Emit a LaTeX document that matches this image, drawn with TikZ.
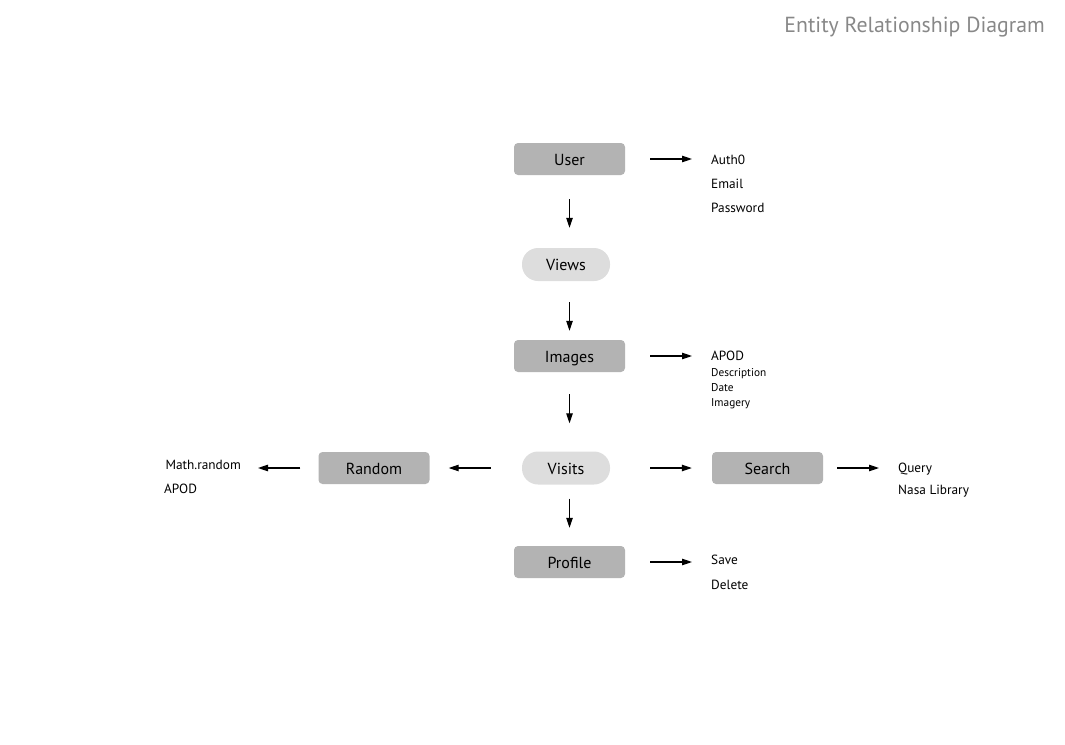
\documentclass[tikz,border=0pt]{standalone}
\usepackage{fontspec}
\setmainfont{PT Sans}
\usetikzlibrary{arrows.meta}
\definecolor{boxgray}{RGB}{179,179,179}
\definecolor{pillgray}{RGB}{221,221,221}
\definecolor{titlegray}{RGB}{136,136,136}

\begin{document}
\begin{tikzpicture}[x=1pt,y=-1pt,
  entity/.style={fill=boxgray,rounded corners=4pt,minimum width=111pt,minimum height=32pt,text height=12pt,text depth=0pt,font=\fontsize{16}{19}\selectfont},
  relation/.style={entity,fill=pillgray,rounded corners=16pt,minimum width=88pt,minimum height=33pt},
  attr/.style={anchor=west,inner sep=0pt,text height=9pt,text depth=3pt,font=\fontsize{13.3}{15}\selectfont},
  small/.style={attr,text height=8pt,text depth=2pt,font=\fontsize{11.3}{13}\selectfont},
  arr/.style={line width=1.1pt,-{Triangle[length=10pt,width=6.5pt]}}]

\useasboundingbox (0,0) rectangle (1065,744);

\node[anchor=east,inner sep=0pt,text=titlegray,font=\fontsize{21.8}{24}\selectfont] (title) at (1045,27) {Entity Relationship Diagram};

\node[entity] (user) at (569.5,159) {User};
\node[relation] (views) at (566,264.5) {Views};
\node[entity] (images) at (569.5,356) {Images};
\node[relation] (visits) at (566,468) {Visits};
\node[entity] (random) at (374,468) {Random};
\node[entity] (search) at (767.5,468) {Search};
\node[entity] (profile) at (569.5,562) {Profile};

\node[attr] (auth) at (711,161) {Auth0};
\node[attr] (email) at (711,185) {Email};
\node[attr] (password) at (711,209) {Password};

\node[attr] (apod) at (711,357) {APOD};
\node[small] (descr) at (711,373) {Description};
\node[small] (date) at (711,388) {Date};
\node[small] (imagery) at (711,403) {Imagery};

\node[attr,anchor=east] (math) at (241,466) {Math.random};
\node[attr] (apodr) at (164,490) {APOD};

\node[attr] (query) at (898,469) {Query};
\node[attr] (nasa) at (898,491) {Nasa Library};

\node[attr] (save) at (711,561) {Save};
\node[attr] (delete) at (711,586) {Delete};

\draw[arr,shorten <=25pt,shorten >=19pt] (user.east) -- (user.east -| auth.west);
\draw[arr,shorten <=24pt,shorten >=20pt] (user.south) -- (user.south |- views.north);
\draw[arr,shorten <=21pt,shorten >=9pt] (views.south -| images) -- (images.north);
\draw[arr,shorten <=25pt,shorten >=19pt] (images.east) -- (images.east -| apod.west);
\draw[arr,shorten <=22pt,shorten >=28pt] (images.south) -- (images.south |- visits.north);
\draw[arr,shorten <=31pt,shorten >=19pt] (visits.west) -- (random.east);
\draw[arr,shorten <=18pt,shorten >=17pt] (random.west) -- (random.west -| math.east);
\draw[arr,shorten <=40pt,shorten >=20pt] (visits.east) -- (search.west);
\draw[arr,shorten <=14pt,shorten >=19pt] (search.east) -- (search.east -| query.west);
\draw[arr,shorten <=14pt,shorten >=18pt] (visits.south -| profile) -- (profile.north);
\draw[arr,shorten <=25pt,shorten >=19pt] (profile.east) -- (profile.east -| save.west);

\end{tikzpicture}
\end{document}
